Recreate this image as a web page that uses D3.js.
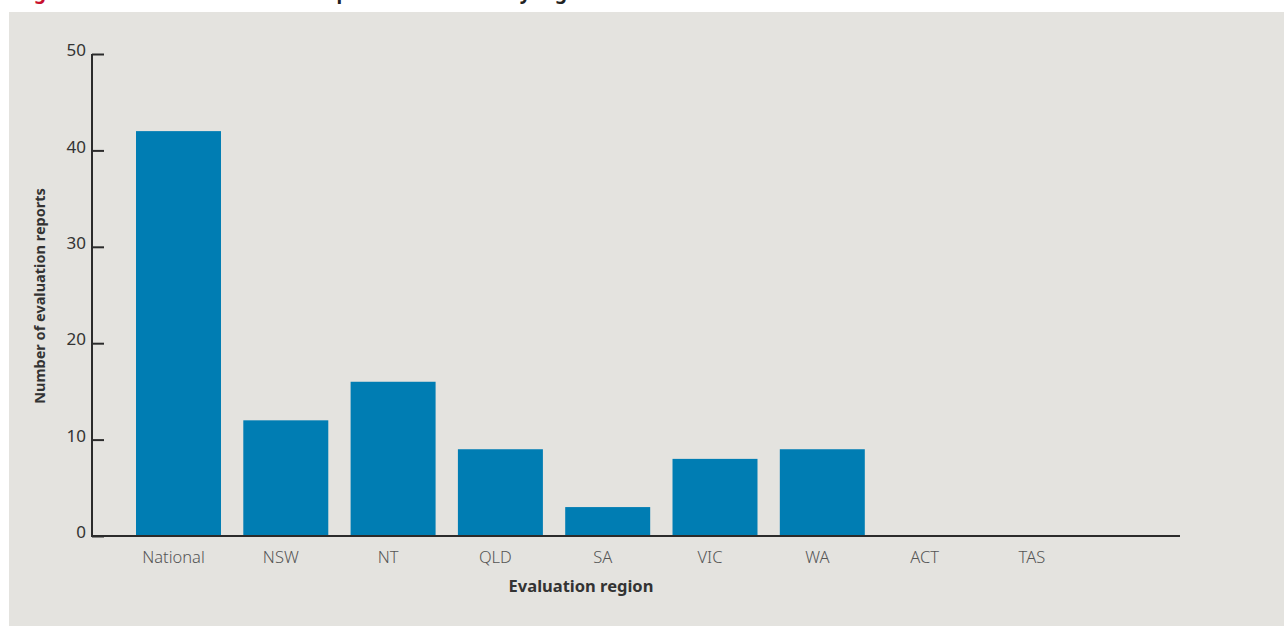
<!DOCTYPE html>
<html>
<head>
<meta charset="utf-8">
<script src="https://cdn.jsdelivr.net/npm/d3@7"></script>
<style>
  html, body { margin: 0; padding: 0; background: #ffffff; }
  svg { display: block; }
</style>
</head>
<body>
<script>
// ---- data ----
const categories = ["National", "NSW", "NT", "QLD", "SA", "VIC", "WA", "ACT", "TAS"];
const reportCounts = [42, 12, 16, 9, 3, 8, 9, 0, 0];
const yTickValues = [0, 10, 20, 30, 40, 50];
const xAxisTitle = "Evaluation region";
const yAxisTitle = "Number of evaluation reports";
const titlePrefix = "Figure 4:";
const titleRest = " Number of evaluation reports undertaken by region";

const W = 1284, H = 626;
const svg = d3.select("body").append("svg").attr("width", W).attr("height", H);
const font = "'Noto Sans', 'Open Sans', sans-serif";

// panel
svg.append("rect").attr("x", 9).attr("y", 12).attr("width", W - 9).attr("height", H - 12).attr("fill", "#E4E3DF");

// cut-off title (only descenders visible, as in the reference)
const title = svg.append("text").attr("x", 18).attr("y", -1)
  .attr("font-family", font).attr("font-size", 19).attr("font-weight", 700);
title.append("tspan").attr("fill", "#C8102E").text(titlePrefix);
title.append("tspan").attr("fill", "#222").text(titleRest);

// scales
const y = d3.scaleLinear().domain([0, 50]).range([536, 54]);
const x = d3.scaleBand().domain(categories).range([136, 1079.4]).paddingInner(0.208).paddingOuter(0);

// bars
svg.append("g").selectAll("rect").data(categories).join("rect")
  .attr("x", d => x(d))
  .attr("y", (d, i) => y(reportCounts[i]))
  .attr("width", x.bandwidth())
  .attr("height", (d, i) => y(0) - y(reportCounts[i]))
  .attr("fill", "#007DB3");

// y axis
const yAxis = svg.append("g").attr("transform", "translate(92,0)")
  .call(d3.axisRight(y).tickValues(yTickValues).tickSize(12).tickFormat(d3.format("d")));
yAxis.select(".domain").attr("stroke", "#2b2b2b").attr("stroke-width", 2).attr("d", "M0,54V537");
yAxis.selectAll(".tick line").attr("stroke", "#2b2b2b").attr("stroke-width", 2);
yAxis.selectAll(".tick text")
  .attr("x", -6).attr("dy", "0.1em").attr("text-anchor", "end")
  .attr("font-family", font).attr("font-size", 17).attr("fill", "#333");

// x axis
const xAxis = svg.append("g").attr("transform", "translate(0,536)")
  .call(d3.axisBottom(x).tickSize(0));
xAxis.select(".domain").attr("stroke", "#2b2b2b").attr("stroke-width", 2.2).attr("d", "M91,0H1180");
xAxis.selectAll(".tick text")
  .attr("x", -5).attr("y", 14).attr("dy", "0.76em")
  .attr("font-family", font).attr("font-size", 16.5).attr("font-weight", 300).attr("fill", "#555");

// axis titles
svg.append("text").attr("x", 581).attr("y", 592).attr("text-anchor", "middle")
  .attr("font-family", font).attr("font-size", 16.5).attr("font-weight", 700).attr("fill", "#333")
  .text(xAxisTitle);
svg.append("text").attr("transform", "translate(45,296) rotate(-90)").attr("text-anchor", "middle")
  .attr("font-family", font).attr("font-size", 14.5).attr("font-weight", 700).attr("fill", "#333")
  .text(yAxisTitle);
</script>
</body>
</html>
